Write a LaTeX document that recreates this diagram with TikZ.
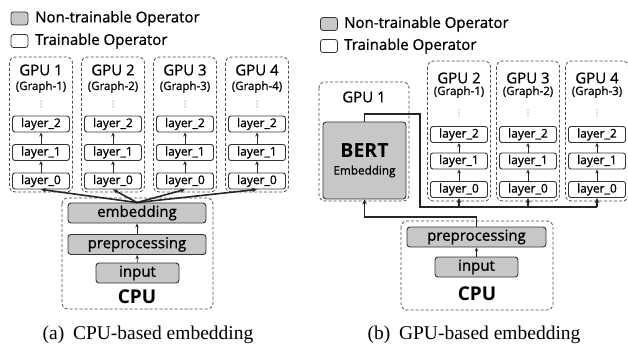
\documentclass[tikz,border=0pt]{standalone}
\usepackage{fontspec}
\setmainfont{Liberation Serif}
\setsansfont{Open Sans}[UprightFeatures={FakeBold=0.9}]
\usetikzlibrary{arrows.meta}

\tikzset{
  legendbox/.style={draw=black!80, fill=#1, line width=0.8pt, rounded corners=2.5pt,
    minimum width=17pt, minimum height=13pt, inner sep=0pt},
  legendtext/.style={anchor=west, inner sep=0pt, font=\sffamily\fontsize{15}{15}\selectfont},
  gpubox/.style={draw=black!70, dash pattern=on 3pt off 2pt, line width=0.8pt, rounded corners=6pt},
  layerbox/.style={draw=black!80, line width=0.9pt, rounded corners=2.5pt, minimum width=57pt,
    minimum height=16pt, inner sep=0pt, font=\sffamily\fontsize{12}{12}\selectfont},
  opbox/.style={draw=black!80, line width=0.9pt, fill=black!22, rounded corners=3pt,
    minimum height=20pt, inner sep=0pt, font=\sffamily\fontsize{15}{15}\selectfont},
  gputitle/.style={inner sep=0pt, font=\sffamily\fontsize{15}{15}\selectfont},
  graphlabel/.style={inner sep=0pt, font=\sffamily\fontsize{11.5}{12}\selectfont},
  hostlabel/.style={inner sep=0pt, font=\sffamily\bfseries\fontsize{19}{19}\selectfont},
  subcap/.style={inner sep=0pt, font=\rmfamily\fontsize{19.5}{20}\selectfont},
  thinarrow/.style={-{Stealth[length=4pt,width=3.5pt]}, black!85, line width=0.7pt},
  bus/.style={black!85, line width=1.6pt},
  busarrow/.style={bus, -{Stealth[length=5pt,width=4.5pt]}},
}

% three small dots standing for the hidden layers
\newcommand{\layerdots}[2]{%
  \foreach \dy in {-3,0,3} \fill[black!55] (#1,#2+\dy) circle (0.55pt);}

\begin{document}
\begin{tikzpicture}[x=1pt, y=-1pt]
\useasboundingbox (0,0) rectangle (628,347);

% ---------------- (a) CPU-based embedding ----------------

% Legend
\node[legendbox=black!22] (aleg1) at (19.5,18.5) {};
\node[legendtext] (aleg1txt) at (35,18.5) {Non-trainable Operator};
\node[legendbox=white] (aleg2) at (19.5,41) {};
\node[legendtext] (aleg2txt) at (35,41) {Trainable Operator};

% GPU workers
\foreach \i/\cx in {1/41,2/113,3/185,4/257} {
  \draw[gpubox] (\cx-31.5,57) rectangle (\cx+31.5,192);
  \node[gputitle] (ag\i title) at (\cx,70) {GPU \i};
  \node[graphlabel] (ag\i graph) at (\cx,87) {(Graph-\i)};
  \layerdots{\cx}{104}
  \node[layerbox] (ag\i l2) at (\cx,124) {layer\_2};
  \node[layerbox] (ag\i l1) at (\cx,152.5) {layer\_1};
  \node[layerbox] (ag\i l0) at (\cx,181) {layer\_0};
  \draw[thinarrow] (ag\i l0) -- (ag\i l1);
  \draw[thinarrow] (ag\i l1) -- (ag\i l2);
}

% CPU side
\draw[gpubox] (62,198) rectangle (213,309);
\node[opbox, minimum width=138pt] (aemb) at (137,213) {embedding};
\node[opbox, minimum width=138pt] (apre) at (137,244.5) {preprocessing};
\node[opbox, minimum width=83pt] (ainput) at (137.5,273) {input};
\node[hostlabel] (acpu) at (137,297) {CPU};
\draw[thinarrow] (ainput) -- (apre);
\draw[thinarrow] (apre) -- (aemb);

% Embeddings sent to every worker
\foreach \i in {1,...,4}
  \draw[busarrow] (aemb.north) -- (ag\i l0.south);

\node[subcap] (capa) at (148,335) {(a)\hspace{0.45em}CPU-based embedding};

% ---------------- (b) GPU-based embedding ----------------

% Legend
\node[legendbox=black!22] (bleg1) at (329,24) {};
\node[legendtext] (bleg1txt) at (344,24) {Non-trainable Operator};
\node[legendbox=white] (bleg2) at (329,46) {};
\node[legendtext] (bleg2txt) at (344,46) {Trainable Operator};

% GPU 1 runs BERT
\draw[gpubox] (319,82) rectangle (409,201);
\node[gputitle] (bg1title) at (364,97) {GPU 1};
\node[opbox, minimum width=83pt, minimum height=77pt, align=center] (bert) at (364.5,160.5)
  {{\sffamily\bfseries\fontsize{19.5}{20}\selectfont BERT}\\[2pt]{\fontsize{11.7}{12}\selectfont Embedding}};

% GPU workers
\foreach \i/\g/\cx in {2/1/459,3/2/528,4/3/597} {
  \draw[gpubox] (\cx-31.5,61) rectangle (\cx+31.5,201);
  \node[gputitle] (bg\i title) at (\cx,78) {GPU \i};
  \node[graphlabel] (bg\i graph) at (\cx,92) {(Graph-\g)};
  \layerdots{\cx}{113}
  \node[layerbox] (bg\i l2) at (\cx,134.5) {layer\_2};
  \node[layerbox] (bg\i l1) at (\cx,161) {layer\_1};
  \node[layerbox] (bg\i l0) at (\cx,189.5) {layer\_0};
  \draw[thinarrow] (bg\i l0) -- (bg\i l1);
  \draw[thinarrow] (bg\i l1) -- (bg\i l2);
}

% CPU side
\draw[gpubox] (401,221) rectangle (553,310);
\node[opbox, minimum width=139pt] (bpre) at (476.5,237) {preprocessing};
\node[opbox, minimum width=83pt] (binput) at (476.5,267) {input};
\node[hostlabel] (bcpu) at (477,294) {CPU};
\draw[thinarrow] (binput) -- (bpre);

% preprocessing -> BERT
\coordinate (lowbend) at (bpre.north |- 0,217);
\draw[busarrow] (bpre.north) -- (lowbend) -| (bert.south);

% BERT -> workers
\coordinate (topbend) at (420,114);
\coordinate (busrail) at (420,207);
\draw[bus] (bert.north) |- (topbend) -- (busrail) -- (busrail -| bg4l0.south);
\foreach \i in {2,3,4}
  \draw[busarrow] (busrail -| bg\i l0.south) -- (bg\i l0.south);

\node[subcap] (capb) at (474,335) {(b)\hspace{0.45em}GPU-based embedding};

\end{tikzpicture}
\end{document}
